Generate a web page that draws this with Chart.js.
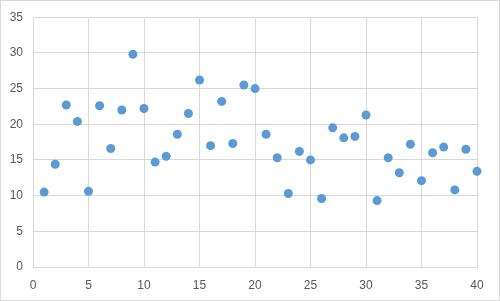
<!DOCTYPE html>
<html><head><meta charset="utf-8">
<script src="https://cdn.jsdelivr.net/npm/chart.js@4/dist/chart.umd.min.js"></script>
<style>html,body{margin:0;padding:0;background:#fff}#wrap{width:500px;height:301px}</style>
</head><body><div id="wrap"><canvas id="c" width="500" height="301"></canvas></div>
<script>
const xValues = [1,2,3,4,5,6,7,8,9,10,11,12,13,14,15,16,17,18,19,20,21,22,23,24,25,26,27,28,29,30,31,32,33,34,35,36,37,38,39,40];
const yValues = [10.5,14.4,22.7,20.4,10.6,22.6,16.6,22.0,29.8,22.2,14.7,15.5,18.6,21.5,26.2,17.0,23.2,17.3,25.5,25.0,18.6,15.3,10.3,16.2,15.0,9.6,19.5,18.1,18.3,21.3,9.3,15.3,13.2,17.2,12.1,16.0,16.8,10.8,16.5,13.4];
const xTicks = [0,5,10,15,20,25,30,35,40];
const yTicks = [0,5,10,15,20,25,30,35];

const pts = xValues.map((x,i)=>({x:x,y:yValues[i]}));
const border = {id:'border',afterDraw(c){const g=c.ctx;g.save();g.strokeStyle='#d9d9d9';g.lineWidth=1;g.strokeRect(0.5,0.5,499,300);g.restore();}};
new Chart(document.getElementById('c'),{
  type:'scatter',
  data:{datasets:[{data:pts,backgroundColor:'#5B9BD5',borderColor:'#5B9BD5',pointRadius:4.5,pointHoverRadius:4.5,borderWidth:0,clip:false}]},
  options:{
    responsive:false,animation:false,
    layout:{autoPadding:false,padding:{left:0,right:23,top:16,bottom:0}},
    plugins:{legend:{display:false},tooltip:{enabled:false}},
    scales:{
      x:{type:'linear',min:0,max:40,
        afterBuildTicks(a){a.ticks=xTicks.map(v=>({value:v}));},
        afterFit(a){a.height=34;},
        grid:{color:'#d9d9d9',drawTicks:false},border:{color:'#d9d9d9'},
        ticks:{color:'#595959',font:{family:'Liberation Sans',size:12},padding:11,maxRotation:0}},
      y:{type:'linear',min:0,max:35,
        afterBuildTicks(a){a.ticks=yTicks.map(v=>({value:v}));},
        afterFit(a){a.width=33;},
        grid:{color:'#d9d9d9',drawTicks:false},border:{color:'#d9d9d9'},
        ticks:{color:'#595959',font:{family:'Liberation Sans',size:12},padding:10}}
    }
  },
  plugins:[border]
});
</script></body></html>
